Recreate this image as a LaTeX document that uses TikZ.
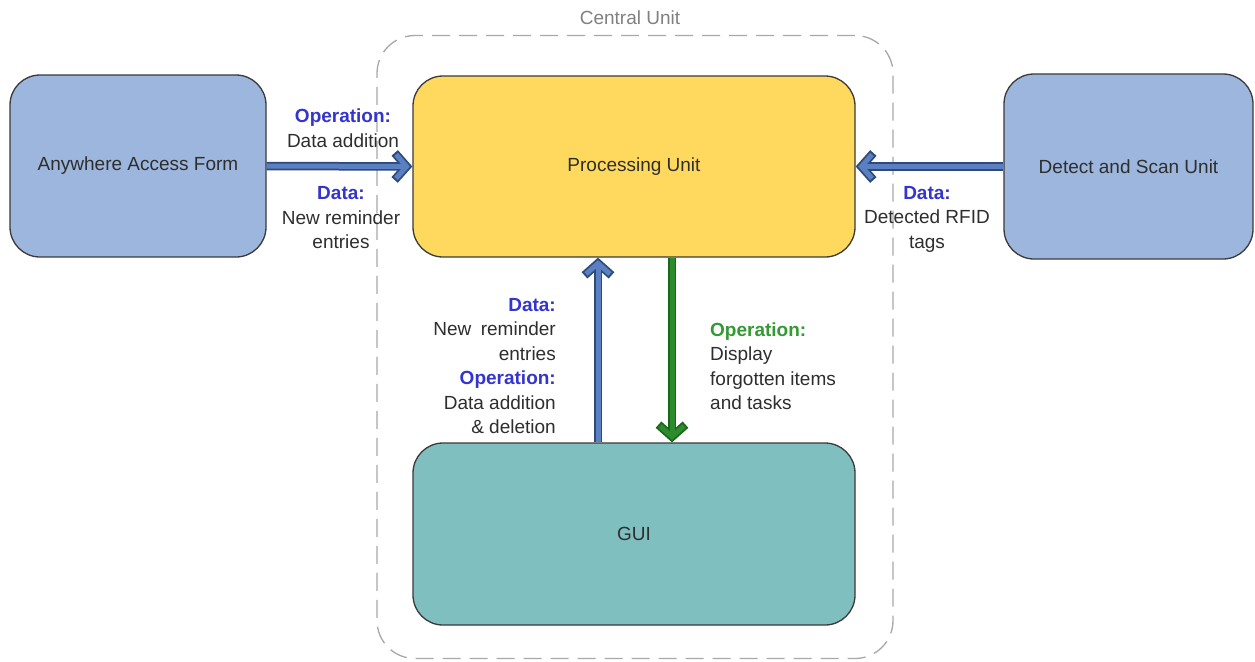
\documentclass[tikz,border=0pt]{standalone}
\usepackage{fontspec}
\setmainfont{Liberation Sans}
\usetikzlibrary{arrows.meta}
\definecolor{boxblue}{HTML}{9DB6DD}
\definecolor{boxyellow}{HTML}{FFD95E}
\definecolor{boxteal}{HTML}{7FBFBF}
\definecolor{edgegray}{HTML}{3A3A3A}
\definecolor{txtgray}{HTML}{2E2E2E}
\definecolor{lblblue}{HTML}{3434D0}
\definecolor{lblgreen}{HTML}{339A33}
\definecolor{arrowout}{HTML}{2E4A7A}
\definecolor{arrowin}{HTML}{5A80C2}
\definecolor{greenout}{HTML}{1C651C}
\definecolor{greenin}{HTML}{2C8C2C}
\definecolor{dashgray}{HTML}{A8A8A8}
\tikzset{
  unitbox/.style={draw=edgegray, line width=1.3pt, rounded corners=30pt, inner sep=0pt,
    font=\fontsize{19}{23}\selectfont, text=txtgray},
  lbl/.style={inner sep=0pt, font=\fontsize{19}{24.5}\selectfont, text=txtgray},
  flowout/.style={line width=8.5pt, draw=#1, -{Straight Barb[length=12pt,width=27pt]}},
  flowin/.style={line width=5pt, draw=#1, shorten >=2.5pt, shorten <=0.1pt, -{Straight Barb[length=10.5pt,width=24pt]}},
}
\begin{document}
\begin{tikzpicture}[x=1pt,y=-1pt]
\useasboundingbox (0,0) rectangle (1255,661);
\fill[white] (0,0) rectangle (1255,661);
% container
\node[draw=dashgray, line width=1.3pt, dash pattern=on 18pt off 9pt, rounded corners=38pt,
      minimum width=516pt, minimum height=623pt, inner sep=0pt] (cu) at (635,347) {};
\node[font=\fontsize{19}{23}\selectfont, text=gray, inner sep=0pt] (cul) at (630,18) {Central Unit};
% boxes
\node[unitbox, fill=boxblue, minimum width=256pt, minimum height=182pt] (aaf) at (138,166) {Anywhere Access Form};
\node[unitbox, fill=boxyellow, minimum width=442pt, minimum height=181pt] (pu) at (634,166.5) {Processing Unit};
\node[unitbox, fill=boxblue, minimum width=249pt, minimum height=185pt] (dsu) at (1128.5,166.5) {Detect and Scan Unit};
\node[unitbox, fill=boxteal, minimum width=442pt, minimum height=182pt] (gui) at (634,534) {GUI};
% arrows
\draw[flowout=arrowout] (aaf.east) -- (pu.west);
\draw[flowin=arrowin] (aaf.east) -- (pu.west);
\draw[flowout=arrowout] (dsu.west) -- (pu.east);
\draw[flowin=arrowin] (dsu.west) -- (pu.east);
\draw[flowout=arrowout] ([xshift=-36pt]gui.north) -- ([xshift=-36pt]pu.south);
\draw[flowin=arrowin] ([xshift=-36pt]gui.north) -- ([xshift=-36pt]pu.south);
\draw[flowout=greenout] ([xshift=38pt]pu.south) -- ([xshift=38pt]gui.north);
\draw[flowin=greenin] ([xshift=38pt]pu.south) -- ([xshift=38pt]gui.north);
% labels
\node[lbl, align=center] (l1) at (343,128) {\textcolor{lblblue}{\textbf{Operation:}}\\Data addition};
\node[lbl, align=center] (l2) at (341,218) {\textcolor{lblblue}{\textbf{Data:}}\\New reminder\\entries};
\node[lbl, align=center] (l3) at (927,219) {\textcolor{lblblue}{\textbf{Data:}}\\Detected RFID\\tags};
\node[lbl, align=right, anchor=east] (l4) at (556,366) {\textcolor{lblblue}{\textbf{Data:}}\\New\enspace reminder\\entries\\\textcolor{lblblue}{\textbf{Operation:}}\\Data addition\\\& deletion};
\node[lbl, align=left, anchor=west] (l5) at (710,366) {\textcolor{lblgreen}{\textbf{Operation:}}\\Display\\forgotten items\\and tasks};
\end{tikzpicture}
\end{document}
